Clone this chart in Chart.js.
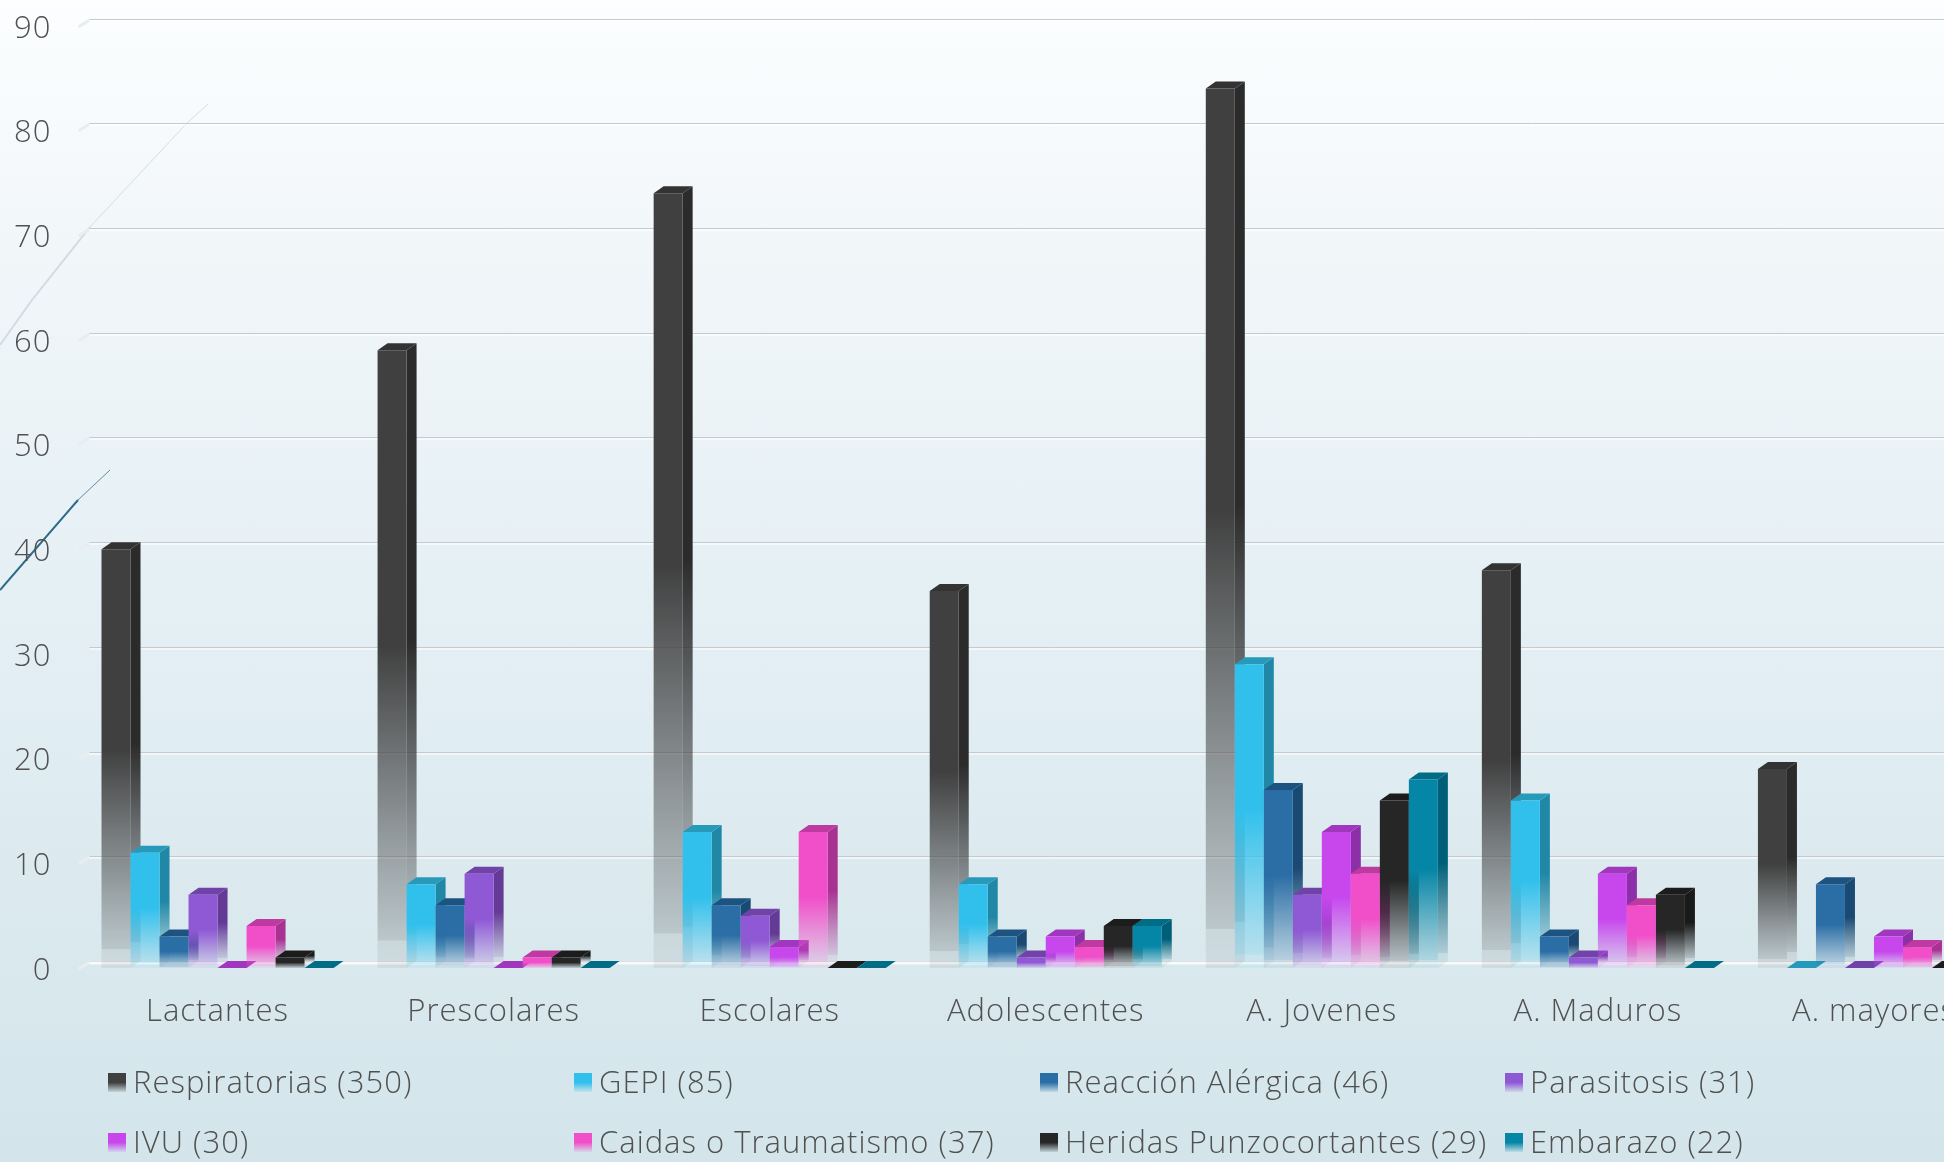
<!DOCTYPE html>
<html lang="es"><head><meta charset="utf-8">
<style>
html,body{margin:0;padding:0;width:1944px;height:1162px;overflow:hidden;background:linear-gradient(180deg,#fcfeff 0%,#f1f6f9 22%,#e5f0f5 50%,#dceaef 75%,#d3e5eb 100%);}
#deco{position:absolute;left:0;top:0}
canvas{position:absolute;left:0;top:0}
</style>
<script src="https://cdn.jsdelivr.net/npm/chart.js@4"></script>
</head><body>
<svg id="deco" width="1944" height="1162">
<path d="M208 104 L187 123 L90 227" stroke="#d3dfe4" stroke-width="1" fill="none"/>
<path d="M90 227 L32 300 L0 345" stroke="#cfdde3" stroke-width="2" fill="none"/>
<path d="M110 470 L78 500" stroke="#5f8ea6" stroke-width="1" fill="none"/>
<path d="M78 500 L0 590" stroke="#2e6a88" stroke-width="2" fill="none"/>
</svg>
<canvas id="c" width="2012" height="1162"></canvas>
<script>
const categories=["Lactantes","Prescolares","Escolares","Adolescentes","A. Jovenes","A. Maduros","A. mayores"];
const seriesNames=["Respiratorias","GEPI","Reacción Alérgica","Parasitosis","IVU","Caidas o Traumatismo","Heridas Punzocortantes","Embarazo"];
const seriesTotals=[350,85,46,31,30,37,29,22];
const respiratorias=[40,59,74,36,84,38,19];
const gepi=[11,8,13,8,29,16,0];
const reaccion=[3,6,6,3,17,3,8];
const parasitosis=[7,9,5,1,7,1,0];
const ivu=[0,0,2,3,13,9,3];
const caidas=[4,1,13,2,9,6,2];
const heridas=[1,1,0,4,16,7,0];
const embarazo=[0,0,0,4,18,0,0];
const seriesValues=[respiratorias,gepi,reaccion,parasitosis,ivu,caidas,heridas,embarazo];
const frontRGB=[[64,64,64],[49,192,236],[43,110,165],[143,88,212],[199,71,237],[240,79,201],[38,38,38],[6,134,166]];
const sideRGB=[[43,43,43],[32,136,166],[26,74,115],[100,58,150],[141,47,168],[168,49,145],[26,26,26],[0,95,120]];
const topRGB=[[51,51,51],[39,154,185],[28,83,129],[113,66,168],[161,54,191],[191,58,160],[28,28,28],[0,108,133]];
const yTicks=[0,10,20,30,40,50,60,70,80,90];
const DX=10,DY=-7;
const FONT='"Open Sans"';
const TXT='#505050';

function fade(c,y0,y1,rgb){
  const g=c.createLinearGradient(0,y0,0,y1);
  const s=rgb.join(',');
  g.addColorStop(0,`rgba(${s},1)`);
  g.addColorStop(0.48,`rgba(${s},1)`);
  g.addColorStop(0.62,`rgba(${s},0.76)`);
  g.addColorStop(0.82,`rgba(${s},0.42)`);
  g.addColorStop(0.955,`rgba(${s},0.2)`);
  g.addColorStop(0.956,`rgba(${s},0.1)`);
  g.addColorStop(1,`rgba(${s},0.07)`);
  return g;
}

const threeD={
  id:'threeD',
  beforeDraw(chart){
    chart.ctx.letterSpacing='1px';
  },
  beforeDatasetsDraw(chart){
    const c=chart.ctx,y=chart.scales.y,a=chart.chartArea;
    c.save();
    yTicks.forEach(v=>{
      const p=Math.round(y.getPixelForValue(v));
      const by=p+DY;
      c.strokeStyle='#e8edef';c.lineWidth=3;
      c.beginPath();c.moveTo(a.left-1,p+1);c.lineTo(a.left+DX,by+1);c.stroke();
      c.strokeStyle='#c6cacc';c.lineWidth=1;
      c.beginPath();c.moveTo(a.left+DX,by+.5);c.lineTo(a.right,by+.5);c.stroke();
      c.strokeStyle='rgba(255,255,255,'+(v===0?'0.8':'0.55')+')';c.lineWidth=v===0?3:2;
      c.beginPath();c.moveTo(a.left+DX,by+2);c.lineTo(a.right,by+2);c.stroke();
    });
    // Left bars first, so each bar's depth faces are overlapped by its right-hand neighbour.
    chart.data.datasets.forEach((d,i)=>{
      const meta=chart.getDatasetMeta(i);
      meta.data.forEach(el=>{
        const l=el.x-el.width/2,r=el.x+el.width/2,t=el.y,b=el.base;
        if(b-t>0.5){
          c.fillStyle=fade(c,t+DY,b+DY,sideRGB[i]);
          c.beginPath();c.moveTo(r,t);c.lineTo(r+DX,t+DY);c.lineTo(r+DX,b+DY);c.lineTo(r,b);c.closePath();c.fill();
        }
        c.fillStyle=`rgb(${topRGB[i].join(',')})`;
        c.beginPath();c.moveTo(l,t);c.lineTo(l+DX,t+DY);c.lineTo(r+DX,t+DY);c.lineTo(r,t);c.closePath();c.fill();
      });
      meta.controller.draw();
    });
    c.restore();
    return false;
  },
  afterDraw(chart){
    const c=chart.ctx;
    const colX=[108,574,1040,1505],rowY=[1084,1144];
    c.save();
    c.font=`300 31px ${FONT}`;c.textBaseline='middle';c.textAlign='left';
    seriesNames.forEach((n,i)=>{
      const x=colX[i%4],yy=rowY[Math.floor(i/4)];
      c.fillStyle=(()=>{const g=c.createLinearGradient(0,yy-11,0,yy+8);const s=frontRGB[i].join(',');
        g.addColorStop(0,`rgba(${s},1)`);g.addColorStop(.5,`rgba(${s},1)`);g.addColorStop(1,`rgba(${s},.1)`);return g;})();
      c.fillRect(x,yy-11,18,19);
      c.fillStyle=TXT;
      c.fillText(`${n} (${seriesTotals[i]})`,x+25,yy);
    });
    c.restore();
  }
};

const canvas=document.getElementById('c');
new Chart(canvas,{
  type:'bar',
  data:{labels:categories,datasets:seriesNames.map((n,i)=>({
    label:n,data:seriesValues[i],
    backgroundColor(ctx){
      const ch=ctx.chart,y=ch.scales.y;
      const flat=`rgb(${frontRGB[i].join(',')})`;
      if(!y||ctx.raw===undefined)return flat;
      const p0=y.getPixelForValue(ctx.raw),p1=y.getPixelForValue(0);
      if(!isFinite(p0)||!isFinite(p1))return flat;
      return fade(ch.ctx,p0,p1,frontRGB[i]);
    },
    borderWidth:0,
    barPercentage:1,categoryPercentage:232/276
  }))},
  options:{
    responsive:false,animation:false,devicePixelRatio:1,
    layout:{padding:{top:25.7,right:0,bottom:0,left:0}},
    plugins:{legend:{display:false},tooltip:{enabled:false},title:{display:false}},
    scales:{
      x:{
        grid:{display:false},border:{display:false},
        ticks:{color:TXT,font:{family:FONT,size:31,weight:300},padding:18,autoSkip:false,maxRotation:0,minRotation:0},
        afterFit(s){s.height=194;}
      },
      y:{
        min:0,max:90,
        afterBuildTicks(s){s.ticks=yTicks.map(v=>({value:v}));},
        grid:{display:false,drawTicks:false},border:{display:false},
        ticks:{color:TXT,font:{family:FONT,size:31,weight:300},padding:28,labelOffset:3},
        afterFit(s){s.width=79.5;s.paddingTop=0;s.paddingBottom=0;}
      }
    }
  },
  plugins:[threeD]
});
</script>
</body></html>
